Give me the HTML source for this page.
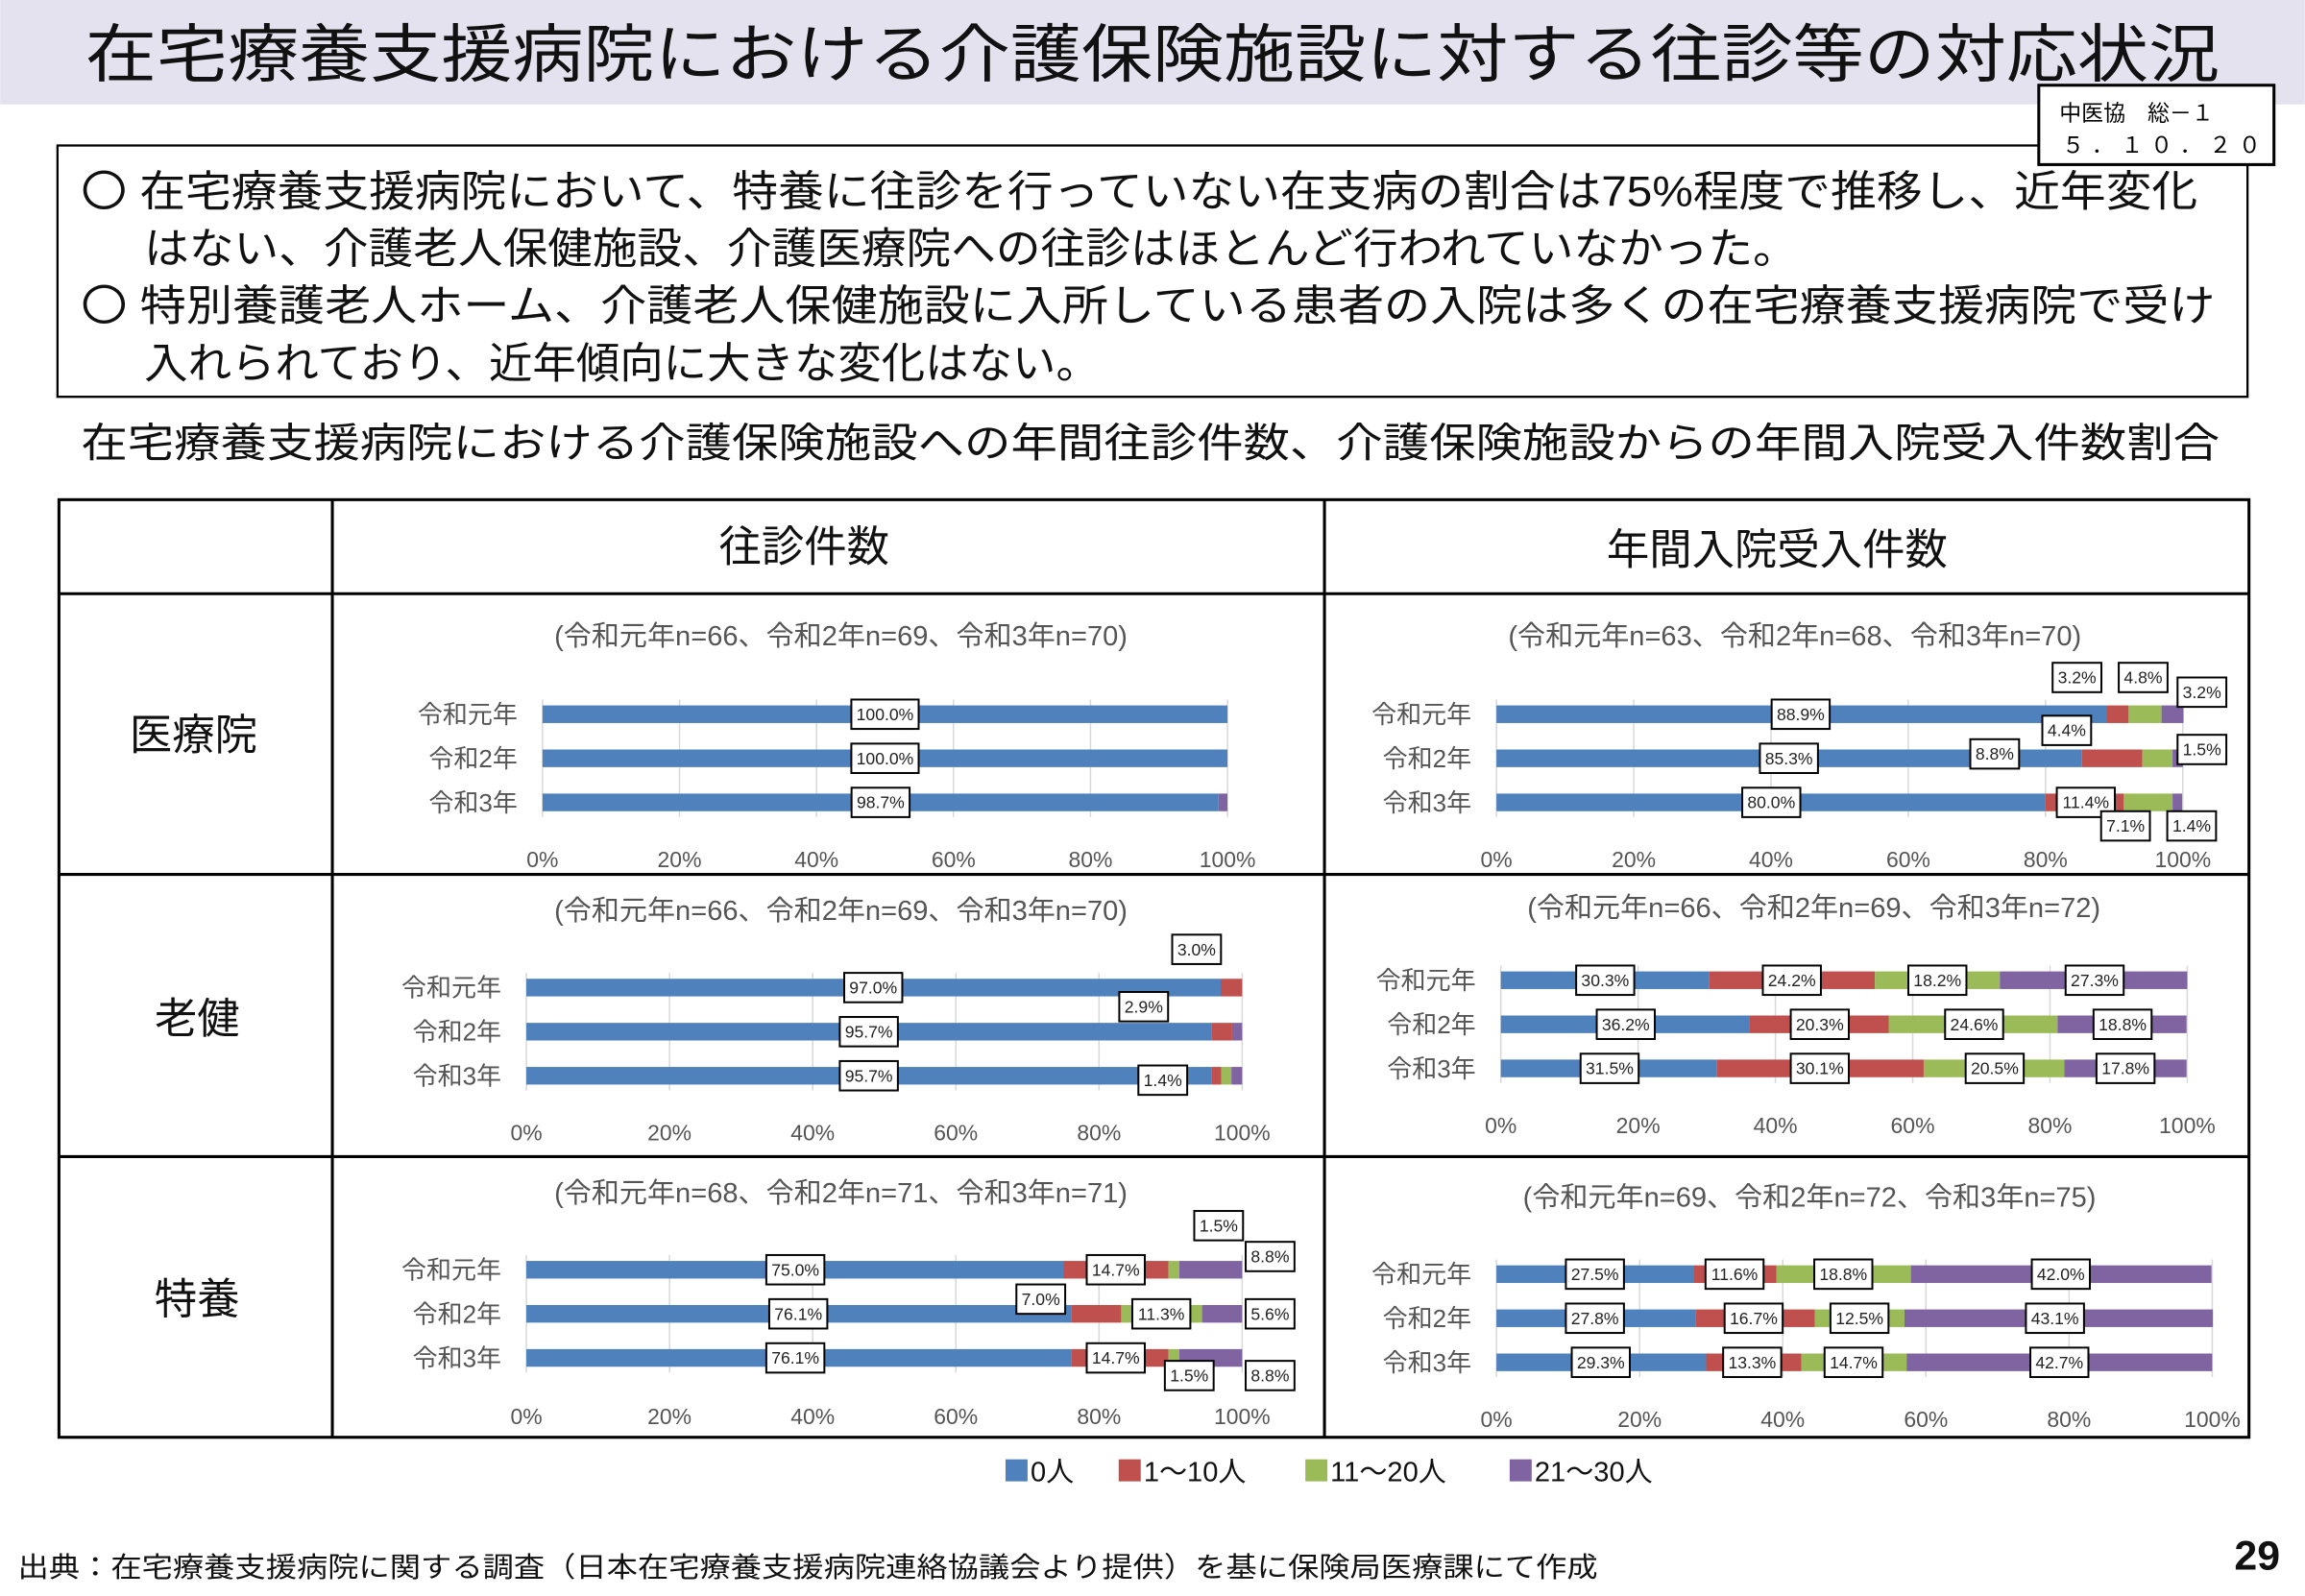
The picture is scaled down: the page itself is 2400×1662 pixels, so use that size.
<!DOCTYPE html>
<html><head><meta charset="utf-8"><style>
html,body{margin:0;padding:0;background:#fff;}
svg{display:block;}
text{font-family:"Liberation Sans","Noto Sans CJK JP",sans-serif;}
.t{font-size:11.5px;fill:#222;}
.ax{font-size:15px;fill:#555;}
.yl{font-size:17px;fill:#555;}
.n{font-size:19px;fill:#555;}
</style></head><body>
<svg width="2400" height="1662" viewBox="0 0 1568 1086" xmlns="http://www.w3.org/2000/svg">
<rect x="0" y="0" width="1568" height="71" fill="#e3e2ee"/>
<text x="58" y="52" font-size="43" textLength="1452" lengthAdjust="spacingAndGlyphs" fill="#111">在宅療養支援病院における介護保険施設に対する往診等の対応状況</text>
<rect x="39" y="99" width="1490" height="171" fill="none" stroke="#000" stroke-width="1.5"/>
<rect x="1387" y="58" width="160" height="54" fill="#fff" stroke="#000" stroke-width="2"/>
<text x="1401" y="82" font-size="15" fill="#000">中医協　総－１</text>
<text x="1403" y="104" font-size="15" fill="#000" letter-spacing="5">５．１０．２０</text>
<g font-size="29" fill="#111">
<text x="55" y="140" textLength="1440" lengthAdjust="spacingAndGlyphs">〇 在宅療養支援病院において、特養に往診を行っていない在支病の割合は75%程度で推移し、近年変化</text>
<text x="98" y="179" textLength="1125" lengthAdjust="spacingAndGlyphs">はない、介護老人保健施設、介護医療院への往診はほとんど行われていなかった。</text>
<text x="55" y="218" textLength="1452" lengthAdjust="spacingAndGlyphs">〇 特別養護老人ホーム、介護老人保健施設に入所している患者の入院は多くの在宅療養支援病院で受け</text>
<text x="98" y="257" textLength="650" lengthAdjust="spacingAndGlyphs">入れられており、近年傾向に大きな変化はない。</text>
</g>
<text x="55" y="311" font-size="28" fill="#111" textLength="1455" lengthAdjust="spacingAndGlyphs">在宅療養支援病院における介護保険施設への年間往診件数、介護保険施設からの年間入院受入件数割合</text>
<g stroke="#000" stroke-width="2" fill="none">
<rect x="40" y="340" width="1490" height="638"/>
<line x1="226" y1="340" x2="226" y2="978"/>
<line x1="901" y1="340" x2="901" y2="978"/>
<line x1="40" y1="404" x2="1530" y2="404"/>
<line x1="40" y1="595" x2="1530" y2="595"/>
<line x1="40" y1="787" x2="1530" y2="787"/>
</g>
<g font-size="29" fill="#111">
<text x="489" y="382">往診件数</text>
<text x="1093" y="384">年間入院受入件数</text>
<text x="88" y="510">医療院</text>
<text x="105" y="703">老健</text>
<text x="105" y="894">特養</text>
</g>
<g id="charts"></g>
<g font-size="19" fill="#111">
<rect x="684" y="993" width="15" height="15" fill="#4f81bd"/><text x="701" y="1008">0人</text>
<rect x="761" y="993" width="15" height="15" fill="#c0504d"/><text x="778" y="1008">1～10人</text>
<rect x="888" y="993" width="15" height="15" fill="#9bbb59"/><text x="905" y="1008">11～20人</text>
<rect x="1027" y="993" width="15" height="15" fill="#8064a2"/><text x="1044" y="1008">21～30人</text>
</g>
<text x="12" y="1073" font-size="19" fill="#111" textLength="1075" lengthAdjust="spacingAndGlyphs">出典：在宅療養支援病院に関する調査（日本在宅療養支援病院連絡協議会より提供）を基に保険局医療課にて作成</text>
<text x="1520" y="1068" font-size="28" font-weight="bold" fill="#111">29</text>
</svg>
<script>
(function(){
var NS="http://www.w3.org/2000/svg",g=document.getElementById('charts');
var C=["#4f81bd","#c0504d","#9bbb59","#8064a2"];
function el(t,a,txt){var e=document.createElementNS(NS,t);for(var k in a)e.setAttribute(k,a[k]);if(txt!=null)e.textContent=txt;g.appendChild(e);return e;}
function chart(o){
 var w=o.x1-o.x0;
 for(var i=0;i<=5;i++){var x=o.x0+w*i/5;el('line',{x1:x,y1:o.gt,x2:x,y2:o.gb,stroke:'#d9d9d9','stroke-width':1});
  el('text',{x:x,y:o.ay,'text-anchor':'middle','class':'ax'},(i*20)+'%');}
 el('text',{x:o.nx,y:o.ny,'text-anchor':'middle','class':'n'},o.n);
 var yl=['令和元年','令和2年','令和3年'];
 for(var r=0;r<3;r++){var y=o.ys[r],x=o.x0;
  el('text',{x:o.lx,y:y+6,'text-anchor':'end','class':'yl'},yl[r]);
  for(var s=0;s<4;s++){var bw=w*o.d[r][s]/100;if(bw>0)el('rect',{x:x,y:y-6,width:bw,height:12,fill:C[s]});x+=bw;}
 }
 (o.lab||[]).forEach(function(L){var tw=L[2].length*6.3+8;
  el('rect',{x:L[0]-tw/2,y:L[1]-10,width:tw,height:20,fill:'#fff',stroke:'#000','stroke-width':1.3});
  el('text',{x:L[0],y:L[1]+4,'text-anchor':'middle','class':'t'},L[2]);});
}
chart({x0:369,x1:835,gt:476,gb:556,ay:590,ys:[486,516,546],lx:352,nx:572,ny:439,n:'(令和元年n=66、令和2年n=69、令和3年n=70)',
 d:[[100,0,0,0],[100,0,0,0],[98.7,0,0,1.3]],lab:[[602,486,'100.0%'],[602,516,'100.0%'],[599,546,'98.7%']]});
chart({x0:1018,x1:1485,gt:476,gb:556,ay:590,ys:[486,516,546],lx:1001,nx:1221,ny:439,n:'(令和元年n=63、令和2年n=68、令和3年n=70)',
 d:[[88.9,3.2,4.8,3.2],[85.3,8.8,4.4,1.5],[80,11.4,7.1,1.4]],
 lab:[[1225,486,'88.9%'],[1217,516,'85.3%'],[1205,546,'80.0%'],[1413,461,'3.2%'],[1458,461,'4.8%'],[1498,471,'3.2%'],[1406,497,'4.4%'],[1357,513,'8.8%'],[1498,510,'1.5%'],[1419,546,'11.4%'],[1446,562,'7.1%'],[1491,562,'1.4%']]});
chart({x0:358,x1:845,gt:662,gb:742,ay:776,ys:[672,702,732],lx:341,nx:572,ny:626,n:'(令和元年n=66、令和2年n=69、令和3年n=70)',
 d:[[97,3,0,0],[95.7,2.9,0,1.4],[95.7,1.4,1.4,1.5]],
 lab:[[594,672,'97.0%'],[591,702,'95.7%'],[591,732,'95.7%'],[814,646,'3.0%'],[778,685,'2.9%'],[791,735,'1.4%']]});
chart({x0:1021,x1:1488,gt:657,gb:737,ay:771,ys:[667,697,727],lx:1004,nx:1234,ny:624,n:'(令和元年n=66、令和2年n=69、令和3年n=72)',
 d:[[30.3,24.2,18.2,27.3],[36.2,20.3,24.6,18.8],[31.5,30.1,20.5,17.8]],
 lab:[[1092,667,'30.3%'],[1219,667,'24.2%'],[1318,667,'18.2%'],[1425,667,'27.3%'],[1106,697,'36.2%'],[1238,697,'20.3%'],[1343,697,'24.6%'],[1444,697,'18.8%'],[1095,727,'31.5%'],[1238,727,'30.1%'],[1357,727,'20.5%'],[1446,727,'17.8%']]});
chart({x0:358,x1:845,gt:854,gb:934,ay:969,ys:[864,894,924],lx:341,nx:572,ny:818,n:'(令和元年n=68、令和2年n=71、令和3年n=71)',
 d:[[75,14.7,1.5,8.8],[76.1,7.0,11.3,5.6],[76.1,13.6,1.5,8.8]],
 lab:[[541,864,'75.0%'],[543,894,'76.1%'],[541,924,'76.1%'],[759,864,'14.7%'],[829,834,'1.5%'],[864,855,'8.8%'],[708,884,'7.0%'],[790,894,'11.3%'],[864,894,'5.6%'],[759,924,'14.7%'],[809,936,'1.5%'],[864,936,'8.8%']]});
chart({x0:1018,x1:1505,gt:857,gb:937,ay:971,ys:[867,897,927],lx:1001,nx:1231,ny:821,n:'(令和元年n=69、令和2年n=72、令和3年n=75)',
 d:[[27.5,11.6,18.8,42.0],[27.8,16.7,12.5,43.1],[29.3,13.3,14.7,42.7]],
 lab:[[1085,867,'27.5%'],[1180,867,'11.6%'],[1254,867,'18.8%'],[1402,867,'42.0%'],[1085,897,'27.8%'],[1193,897,'16.7%'],[1265,897,'12.5%'],[1398,897,'43.1%'],[1089,927,'29.3%'],[1192,927,'13.3%'],[1261,927,'14.7%'],[1401,927,'42.7%']]});
})();
</script>
</body></html>
